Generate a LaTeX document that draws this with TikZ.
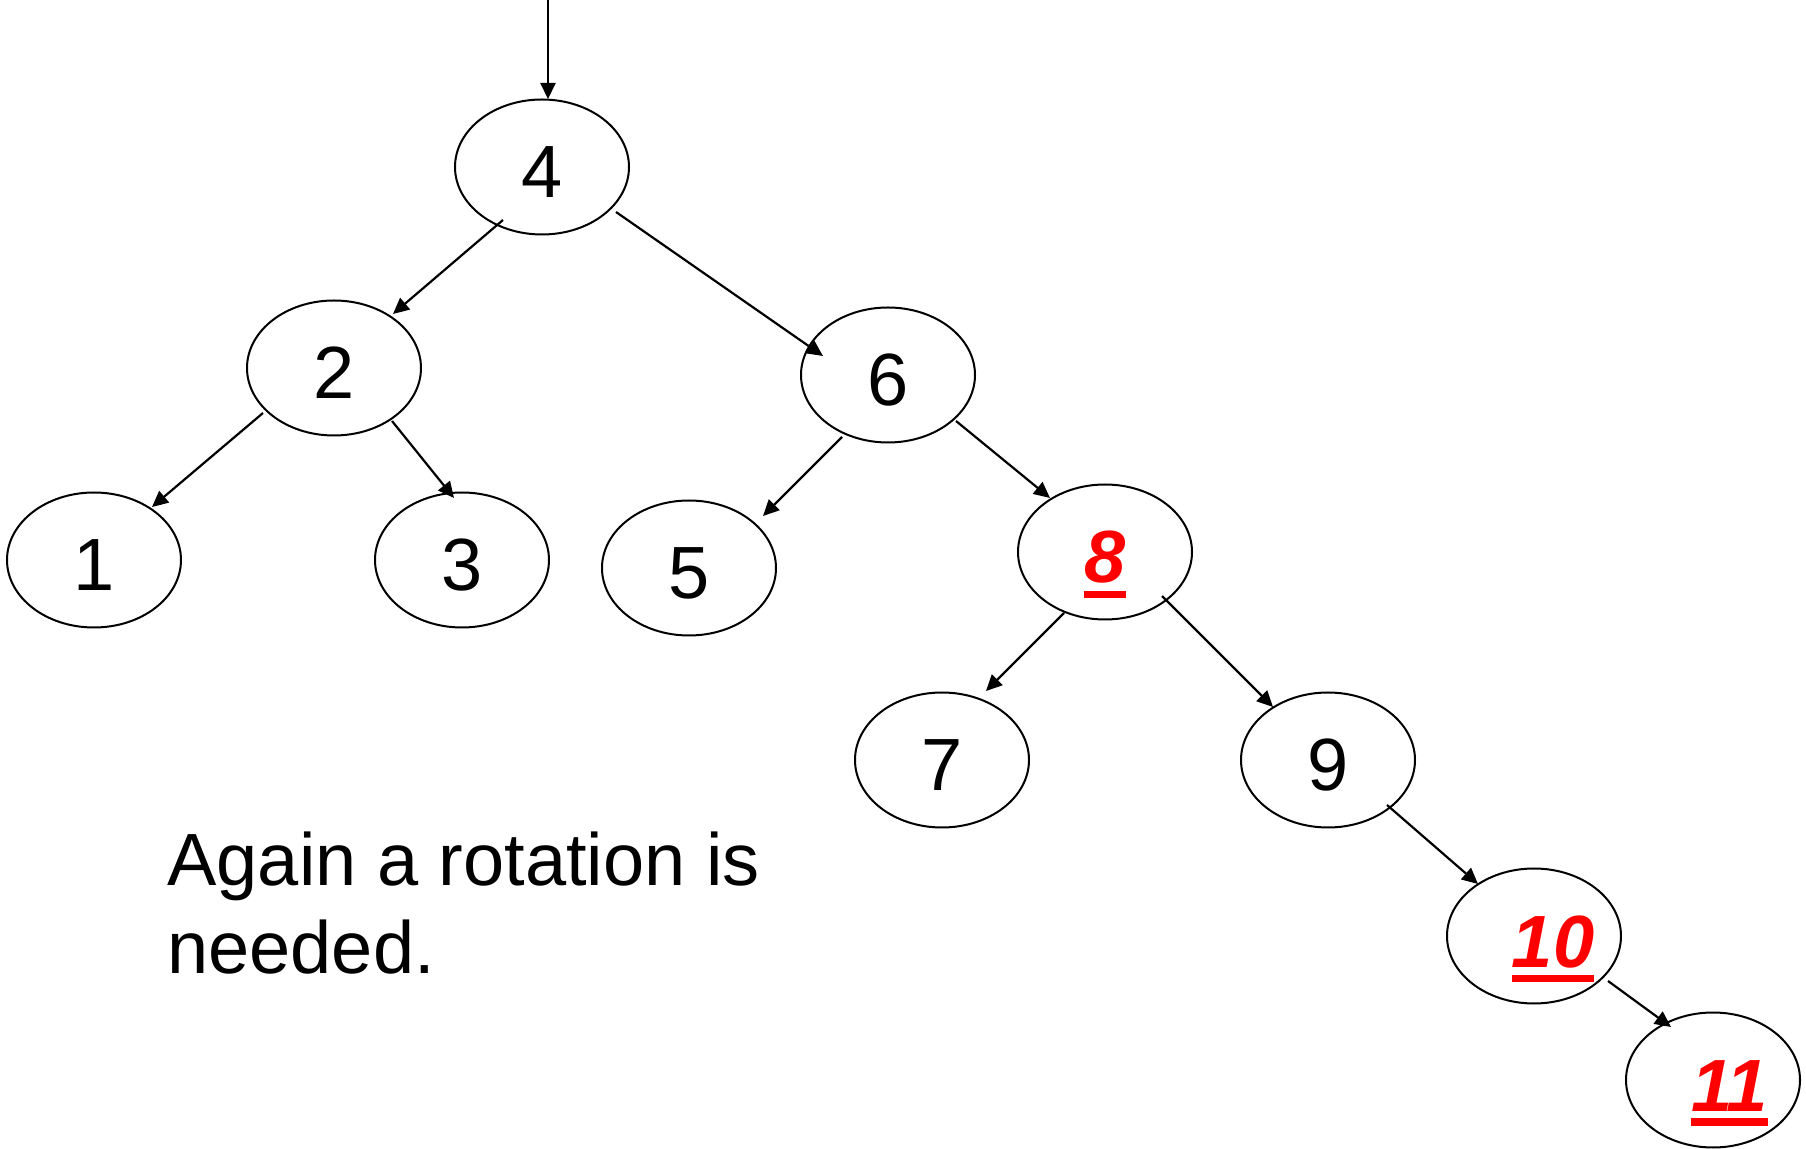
\documentclass[tikz,border=0pt]{standalone}
\usepackage{fontspec}
\setmainfont{Liberation Sans}
\usetikzlibrary{shapes.geometric,arrows.meta,calc}
\definecolor{lblred}{RGB}{255,0,0}
\newcommand{\redul}[1]{\vtop{\hbox{#1}\kern3.5pt\hrule height 3.75pt}}
\tikzset{
  treenode/.style={ellipse, draw, line width=1pt, minimum width=87pt, minimum height=67.5pt,
    inner sep=0pt, text height=31pt, text depth=0pt, font=\fontsize{37}{44}\selectfont},
  newnode/.style={treenode, text=lblred, font=\fontsize{37}{44}\selectfont\bfseries\itshape},
  arr/.style={line width=1.1pt, -{Triangle[length=8pt,width=7.5pt]}},
  note/.style={anchor=base west, inner sep=0pt, font=\fontsize{37}{44}\selectfont}
}
\begin{document}
\begin{tikzpicture}[x=0.5pt,y=-0.5pt]
\useasboundingbox (0,0) rectangle (1806,1149);
% nodes
\node[treenode] (n4) at (542,167) {4};
\node[treenode] (n2) at (334,368) {2};
\node[treenode] (n6) at (888,375) {6};
\node[treenode] (n1) at (94,560) {1};
\node[treenode] (n3) at (462,560) {3};
\node[treenode] (n5) at (689,568) {5};
\node[newnode] (n8) at (1105,552) {\redul{8}};
\node[treenode] (n7) at (942,760) {7};
\node[treenode] (n9) at (1328,760) {9};
\node[newnode] (n10) at (1534,936) {\hspace*{19pt}\redul{10}};
\node[newnode] (n11) at (1713,1080) {\hspace*{16.5pt}\redul{11}};
% connectors
\coordinate (root) at (548,0);
\draw[arr] (root) -- ($(n4)+(6,-68)$);
\draw[arr] ($(n4)+(-39,53)$) -- ($(n2)+(59,-54)$);
\draw[arr] ($(n4)+(74,45)$) -- ($(n6)+(-65,-19)$);
\draw[arr] ($(n2)+(-71,45)$) -- ($(n1)+(58,-53)$);
\draw[arr] ($(n2)+(58,53)$) -- ($(n3)+(-8,-62)$);
\draw[arr] ($(n6)+(-46,62)$) -- ($(n5)+(74,-52)$);
\draw[arr] ($(n6)+(68,46)$) -- ($(n8)+(-55,-54)$);
\draw[arr] ($(n8)+(-41,61)$) -- ($(n7)+(44,-69)$);
\draw[arr] ($(n8)+(57,44)$) -- ($(n9)+(-55,-53)$);
\draw[arr] ($(n9)+(59,45)$) -- ($(n10)+(-56,-52)$);
\draw[arr] ($(n10)+(74,45)$) -- ($(n11)+(-42,-53)$);
% note
\node[note] (t1) at (167,885) {Again a rotation is};
\node[note] (t2) at (167,973) {needed.};
\end{tikzpicture}
\end{document}
